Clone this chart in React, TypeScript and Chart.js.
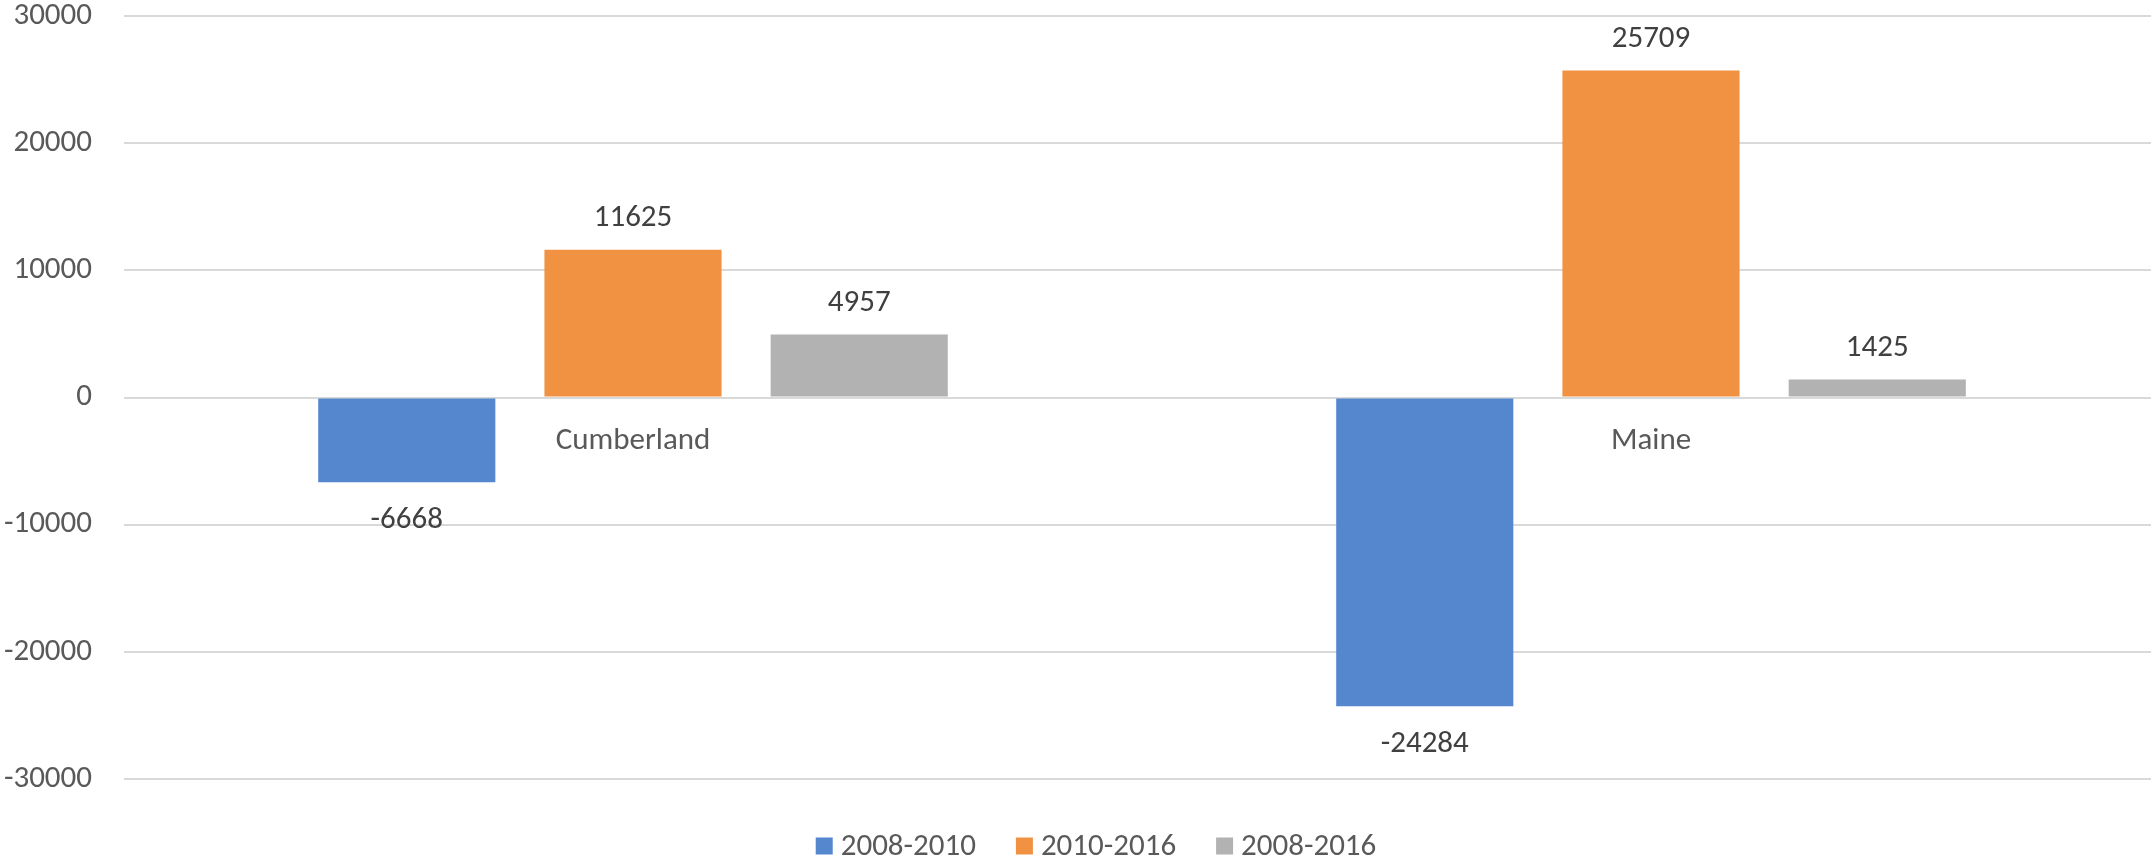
import React, { useEffect, useRef } from "react";
import { Chart, registerables } from "chart.js";

Chart.register(...registerables);

const categories = ["Cumberland", "Maine"];
const seriesNames = ["2008-2010", "2010-2016", "2008-2016"];
const series2008to2010 = [-6668, -24284];
const series2010to2016 = [11625, 25709];
const series2008to2016 = [4957, 1425];
const seriesColors = ["#5587CF", "#F19242", "#B2B2B2"];
const yMin = -30000;
const yMax = 30000;
const yStep = 10000;

const FONT = "Carlito, Lato, 'Open Sans', sans-serif";
const FONT_SIZE = 31;

const valueLabelPlugin = {
  id: "valueLabels",
  afterDatasetsDraw(chart: any) {
    const ctx = chart.ctx;
    ctx.save();
    ctx.font = `${FONT_SIZE}px ${FONT}`;
    ctx.fillStyle = "#404040";
    ctx.textAlign = "center";
    ctx.textBaseline = "middle";
    chart.data.datasets.forEach((ds: any, di: number) => {
      const meta = chart.getDatasetMeta(di);
      meta.data.forEach((el: any, i: number) => {
        const v = ds.data[i];
        const y = v >= 0 ? el.y - 31 : el.y + 38;
        ctx.fillText(String(v), el.x, y);
      });
    });
    ctx.restore();
  },
};

const categoryLabelPlugin = {
  id: "categoryLabels",
  afterDatasetsDraw(chart: any) {
    const ctx = chart.ctx;
    const xs = chart.scales.x;
    const ys = chart.scales.y;
    ctx.save();
    ctx.font = `${FONT_SIZE}px ${FONT}`;
    ctx.fillStyle = "#595959";
    ctx.textAlign = "center";
    ctx.textBaseline = "middle";
    const y0 = ys.getPixelForValue(0);
    chart.data.labels.forEach((lab: string, i: number) => {
      ctx.fillText(lab, xs.getPixelForValue(i), y0 + 44);
    });
    ctx.restore();
  },
};

const legendPlugin = {
  id: "customLegend",
  afterDraw(chart: any) {
    const ctx = chart.ctx;
    ctx.save();
    ctx.font = `${FONT_SIZE}px ${FONT}`;
    ctx.textBaseline = "middle";
    ctx.textAlign = "left";
    const box = 17;
    const gap = 8;
    const itemGap = 40;
    const items = chart.data.datasets.map((ds: any) => ({
      label: ds.label,
      color: ds.backgroundColor,
      w: box + gap + ctx.measureText(ds.label).width,
    }));
    const total =
      items.reduce((s: number, it: any) => s + it.w, 0) + itemGap * (items.length - 1);
    let x = 1096 - total / 2;
    const cy = 846;
    items.forEach((it: any) => {
      ctx.fillStyle = it.color;
      ctx.fillRect(x, cy - box / 2, box, box);
      ctx.fillStyle = "#595959";
      ctx.fillText(it.label, x + box + gap, cy + 1);
      x += it.w + itemGap;
    });
    ctx.restore();
  },
};

export default function App() {
  const canvasRef = useRef<HTMLCanvasElement | null>(null);

  useEffect(() => {
    if (!canvasRef.current) return;
    const values = [series2008to2010, series2010to2016, series2008to2016];
    const chart = new Chart(canvasRef.current, {
      type: "bar",
      data: {
        labels: categories,
        datasets: seriesNames.map((name, i) => ({
          label: name,
          data: values[i],
          backgroundColor: seriesColors[i],
          borderWidth: 0,
          categoryPercentage: 0.6667,
          barPercentage: 0.783,
        })),
      },
      options: {
        responsive: false,
        devicePixelRatio: 1,
        animation: false,
        layout: { padding: { top: 16, bottom: 86, left: 0, right: 0 } },
        plugins: {
          legend: { display: false },
          tooltip: { enabled: false },
        },
        scales: {
          x: {
            display: false,
          },
          y: {
            min: yMin,
            max: yMax,
            afterFit: (scale: any) => {
              scale.width = 124;
              scale.paddingTop = 16;
              scale.paddingBottom = 16;
            },
            grid: { color: "#D9D9D9", lineWidth: 2, drawTicks: false },
            border: { display: false },
            ticks: {
              stepSize: yStep,
              color: "#595959",
              font: { family: FONT, size: FONT_SIZE },
              padding: 32,
              callback: (v: any) => String(v),
            },
          },
        },
      },
      plugins: [valueLabelPlugin, categoryLabelPlugin, legendPlugin],
    });
    return () => chart.destroy();
  }, []);

  return (
    <div style={{ position: "absolute", left: 0, top: 0, width: 2151, height: 865, overflow: "hidden", background: "#fff" }}>
      <canvas ref={canvasRef} width={2160} height={865} style={{ display: "block" }} />
    </div>
  );
}
